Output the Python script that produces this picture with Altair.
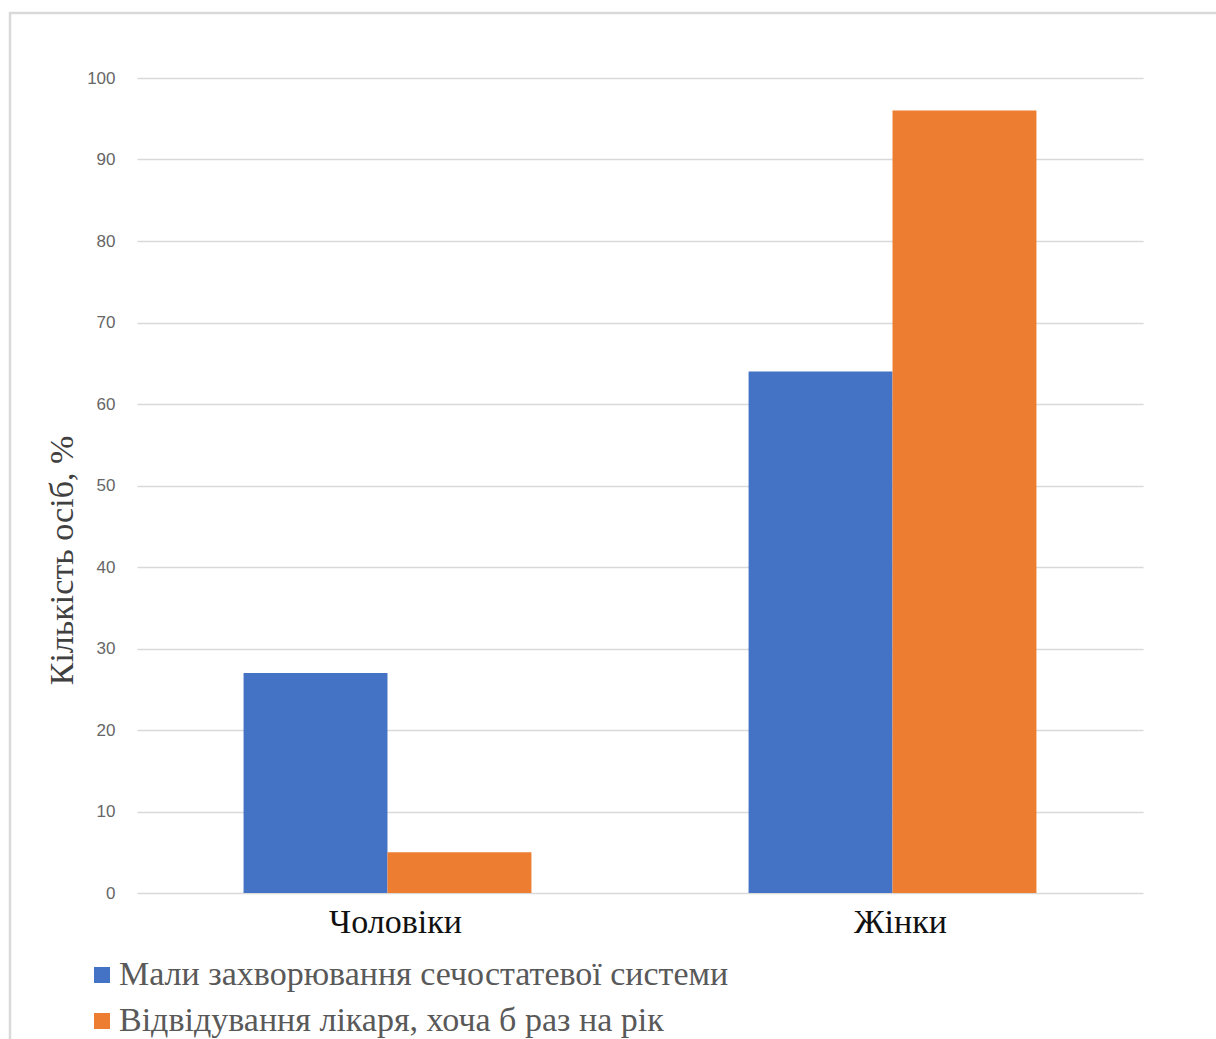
import altair as alt
import pandas as pd

# Survey results: share of respondents (%) by sex
groups = ["Чоловіки", "Жінки"]
series = [
    "Мали захворювання сечостатевої системи",
    "Відвідування лікаря, хоча б раз на рік",
]
had_disease = [27, 64]
visited_doctor = [5, 96]
colors = ["#4472C4", "#ED7D31"]

rows = []
for i, g in enumerate(groups):
    rows.append({"group": g, "series": series[0], "value": had_disease[i], "order": 0})
    rows.append({"group": g, "series": series[1], "value": visited_doctor[i], "order": 1})
df = pd.DataFrame(rows)

serif = "Liberation Serif"
sans = "Liberation Sans"

bars = alt.Chart(df).mark_bar().encode(
    x=alt.X(
        "group:N",
        sort=groups,
        scale=alt.Scale(paddingInner=0.43, paddingOuter=0.211),
        axis=alt.Axis(
            title=None,
            labelAngle=0,
            labelFont=serif,
            labelFontSize=34,
            labelColor="#111111",
            labelPadding=12,
            labelOffset=8,
            domain=False,
            ticks=False,
            grid=False,
        ),
    ),
    xOffset=alt.XOffset("series:N", sort=series, scale=alt.Scale(paddingInner=0, paddingOuter=0)),
    y=alt.Y(
        "value:Q",
        scale=alt.Scale(domain=[0, 100], nice=False),
        axis=alt.Axis(
            title="Кількість осіб, %",
            titleFont=serif,
            titleFontSize=34,
            titleFontWeight="normal",
            titleColor="#404040",
            titleAngle=-90,
            titleX=-75,
            titleY=482,
            titleAlign="center",
            titleBaseline="middle",
            values=list(range(0, 101, 10)),
            labelFont=sans,
            labelFontSize=17,
            labelColor="#666666",
            labelPadding=22,
            domain=False,
            ticks=False,
            grid=True,
            gridColor="#d9d9d9",
            gridWidth=1.5,
        ),
    ),
    color=alt.Color(
        "series:N",
        sort=series,
        scale=alt.Scale(domain=series, range=colors),
        legend=alt.Legend(
            title=None,
            orient="none",
            legendX=-52,
            legendY=880,
            direction="vertical",
            symbolType="square",
            symbolSize=256,
            symbolStrokeWidth=0,
            labelFont=serif,
            labelFontSize=34,
            labelColor="#595959",
            labelLimit=1000,
            labelOffset=0,
            rowPadding=12,
        ),
    ),
    order=alt.Order("order:Q"),
)

# Thin light-grey frame around the whole figure
frame = alt.Chart(alt.Data(values=[{"f": 1}])).mark_rect(
    fill=None, stroke="#d9d9d9", strokeWidth=2.5
).encode(
    x=alt.value(-127),
    x2=alt.value(1100),
    y=alt.value(-65),
    y2=alt.value(1000),
)

chart = alt.layer(frame, bars).properties(
    width=1006,
    height=815,
    padding={"left": 137, "top": 78, "right": 73, "bottom": 146},
    autosize=alt.AutoSizeParams(type="none"),
    background="white",
).configure_view(stroke=None)

chart.save("out.html", embed_options={"renderer": "svg", "actions": False})
